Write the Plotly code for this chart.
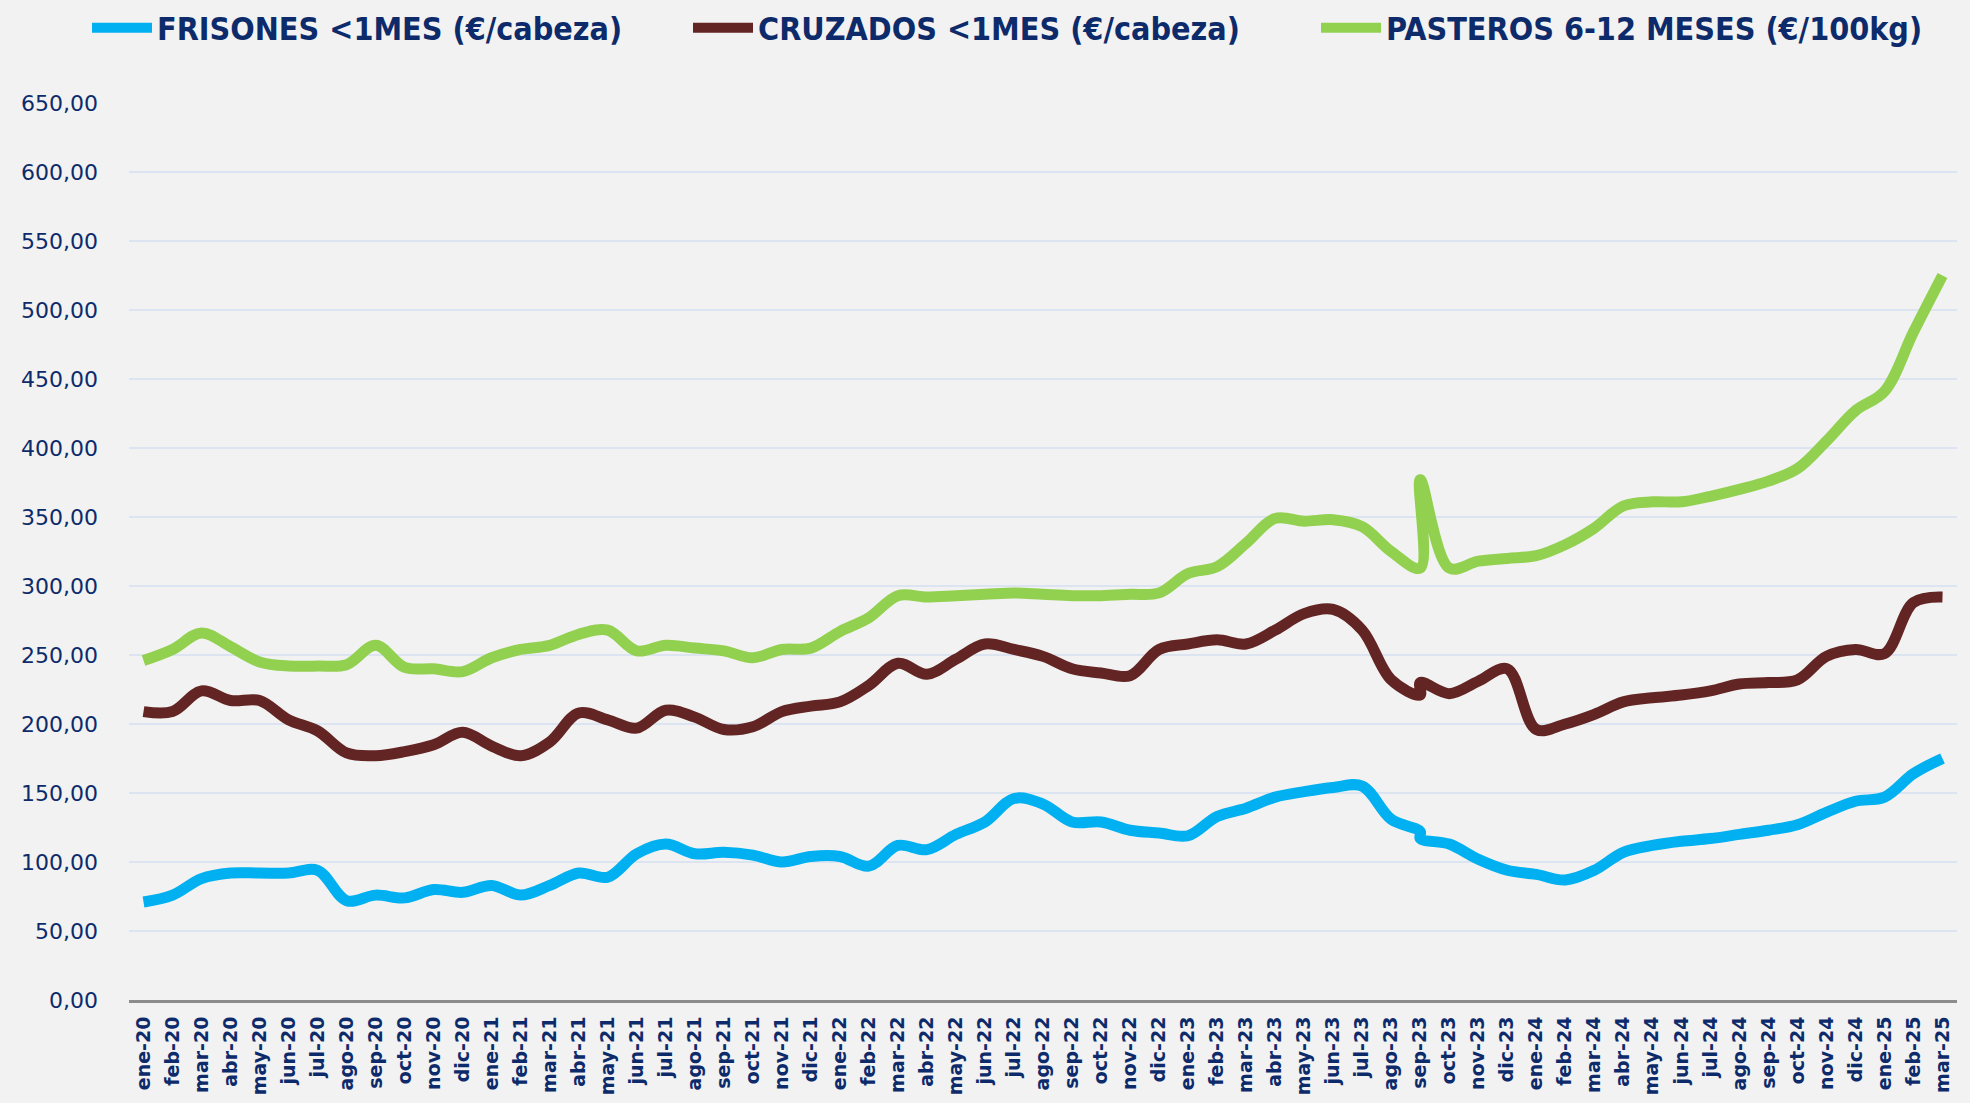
import plotly.graph_objects as go

# Category labels (monthly)
etiquetas = [
    "ene-20", "feb-20", "mar-20", "abr-20", "may-20", "jun-20", "jul-20", "ago-20", "sep-20", "oct-20", "nov-20", "dic-20",
    "ene-21", "feb-21", "mar-21", "abr-21", "may-21", "jun-21", "jul-21", "ago-21", "sep-21", "oct-21", "nov-21", "dic-21",
    "ene-22", "feb-22", "mar-22", "abr-22", "may-22", "jun-22", "jul-22", "ago-22", "sep-22", "oct-22", "nov-22", "dic-22",
    "ene-23", "feb-23", "mar-23", "abr-23", "may-23", "jun-23", "jul-23", "ago-23", "sep-23", "oct-23", "nov-23", "dic-23",
    "ene-24", "feb-24", "mar-24", "abr-24", "may-24", "jun-24", "jul-24", "ago-24", "sep-24", "oct-24", "nov-24", "dic-24",
    "ene-25", "feb-25", "mar-25",
]
# sep-23 has two observations
fechas = etiquetas[:45] + ["sep-23"] + etiquetas[45:]

frisones = [71, 76, 88, 92, 92, 92, 94, 72, 76, 74, 80, 78,
            83, 76, 83, 92, 89, 106, 113, 106, 107, 105, 100, 104,
            104, 97, 112, 109, 120, 129, 146, 142, 129, 129, 123, 121,
            119, 133, 139, 147, 151, 154, 155, 131, 122, 117, 113, 102, 94,
            91, 87, 94, 107, 112, 115, 117, 120, 123, 127, 136, 144,
            147, 164, 175]

cruzados = [209, 209, 224, 217, 217, 203, 195, 179, 177, 180, 185, 194,
            184, 177, 187, 208, 203, 197, 210, 205, 196, 198, 209, 213,
            216, 228, 244, 236, 247, 258, 254, 249, 240, 237, 235, 254,
            258, 261, 258, 268, 280, 283, 268, 232, 221, 230, 222, 231, 240,
            196, 200, 207, 216, 219, 221, 224, 229, 230, 232, 249, 254,
            251, 288, 292]

pasteros = [246, 254, 266, 256, 245, 242, 242, 243, 257, 241, 240, 238,
            248, 254, 257, 265, 268, 253, 257, 255, 253, 248, 254, 255,
            267, 277, 293, 292, 293, 294, 295, 294, 293, 293, 294, 295,
            309, 314, 331, 349, 347, 348, 343, 325, 313, 377, 313, 318, 320,
            322, 330, 342, 358, 361, 361, 365, 370, 376, 385, 405, 427,
            441, 484, 525]

series = [
    ("FRISONES <1MES (€/cabeza)", frisones, "#00B0F0", "legend"),
    ("CRUZADOS <1MES (€/cabeza)", cruzados, "#632523", "legend2"),
    ("PASTEROS 6-12 MESES (€/100kg)", pasteros, "#92D050", "legend3"),
]

W, H = 1970, 1103
dx, dy = 4, 5
L, R, T, B = 129, 13 - dx, 103, 103 - dy
navy = "#0D2B6B"
pw, ph = W - L - R, H - T - B

fig = go.Figure()

# soft shadow layer (subplot slightly offset)
for name, vals, col, lg in series:
    fig.add_trace(go.Scatter(
        x=fechas, y=vals, mode="lines", xaxis="x", yaxis="y",
        line=dict(color="rgba(0,0,0,0.14)", width=11, shape="spline", smoothing=1),
        showlegend=False, hoverinfo="skip"))

for name, vals, col, lg in series:
    fig.add_trace(go.Scatter(
        x=fechas, y=vals, mode="lines", name=name, xaxis="x2", yaxis="y2",
        legend=lg,
        line=dict(color=col, width=11, shape="spline", smoothing=1)))

legend_font = dict(family="DejaVu Sans Condensed, Liberation Sans Narrow, Roboto Condensed, Roboto",
                   size=32, color=navy, weight="bold")


def legend_box(xpx):
    return dict(orientation="h", xref="container", yref="container",
                x=xpx / W, y=1 - 28 / H, xanchor="left", yanchor="middle",
                font=legend_font, itemwidth=60, bgcolor="rgba(0,0,0,0)")


fig.update_layout(
    width=W, height=H,
    margin=dict(l=L, r=R, t=T, b=B),
    paper_bgcolor="#F2F2F2", plot_bgcolor="#F2F2F2",
    separators=",.",
    font=dict(family="DejaVu Sans", color=navy),
    xaxis=dict(type="category", categoryorder="array", categoryarray=etiquetas,
               range=[-0.5, len(etiquetas) - 0.5], visible=False,
               domain=[dx / pw, 1]),
    yaxis=dict(range=[0, 650], visible=False,
               domain=[0, 1 - dy / ph]),
    xaxis2=dict(type="category", categoryorder="array", categoryarray=etiquetas,
                range=[-0.5, len(etiquetas) - 0.5], anchor="y2",
                tickmode="array", tickvals=etiquetas, ticktext=etiquetas,
                tickangle=-90, tickfont=dict(family="DejaVu Sans", size=19, color=navy, weight="bold"),
                showgrid=False, showline=True, linecolor="#8C8C8C", linewidth=3,
                ticks="", ticklabelstandoff=6, automargin=False, domain=[0, 1 - dx / pw]),
    yaxis2=dict(range=[0, 650], dtick=50, tickformat=".2f", anchor="x2",
                showgrid=True, gridcolor="#DCE4F2", gridwidth=2,
                zeroline=False, showline=False, ticks="",
                ticklabelstandoff=30,
                tickfont=dict(family="DejaVu Sans", size=22, color=navy),
                automargin=False, domain=[dy / ph, 1]),
    legend=legend_box(87),
    legend2=legend_box(688),
    legend3=legend_box(1316),
    showlegend=True,
)

fig.write_html("out.html", post_script="document.body.style.margin='0';",
               config={"displayModeBar": False})
